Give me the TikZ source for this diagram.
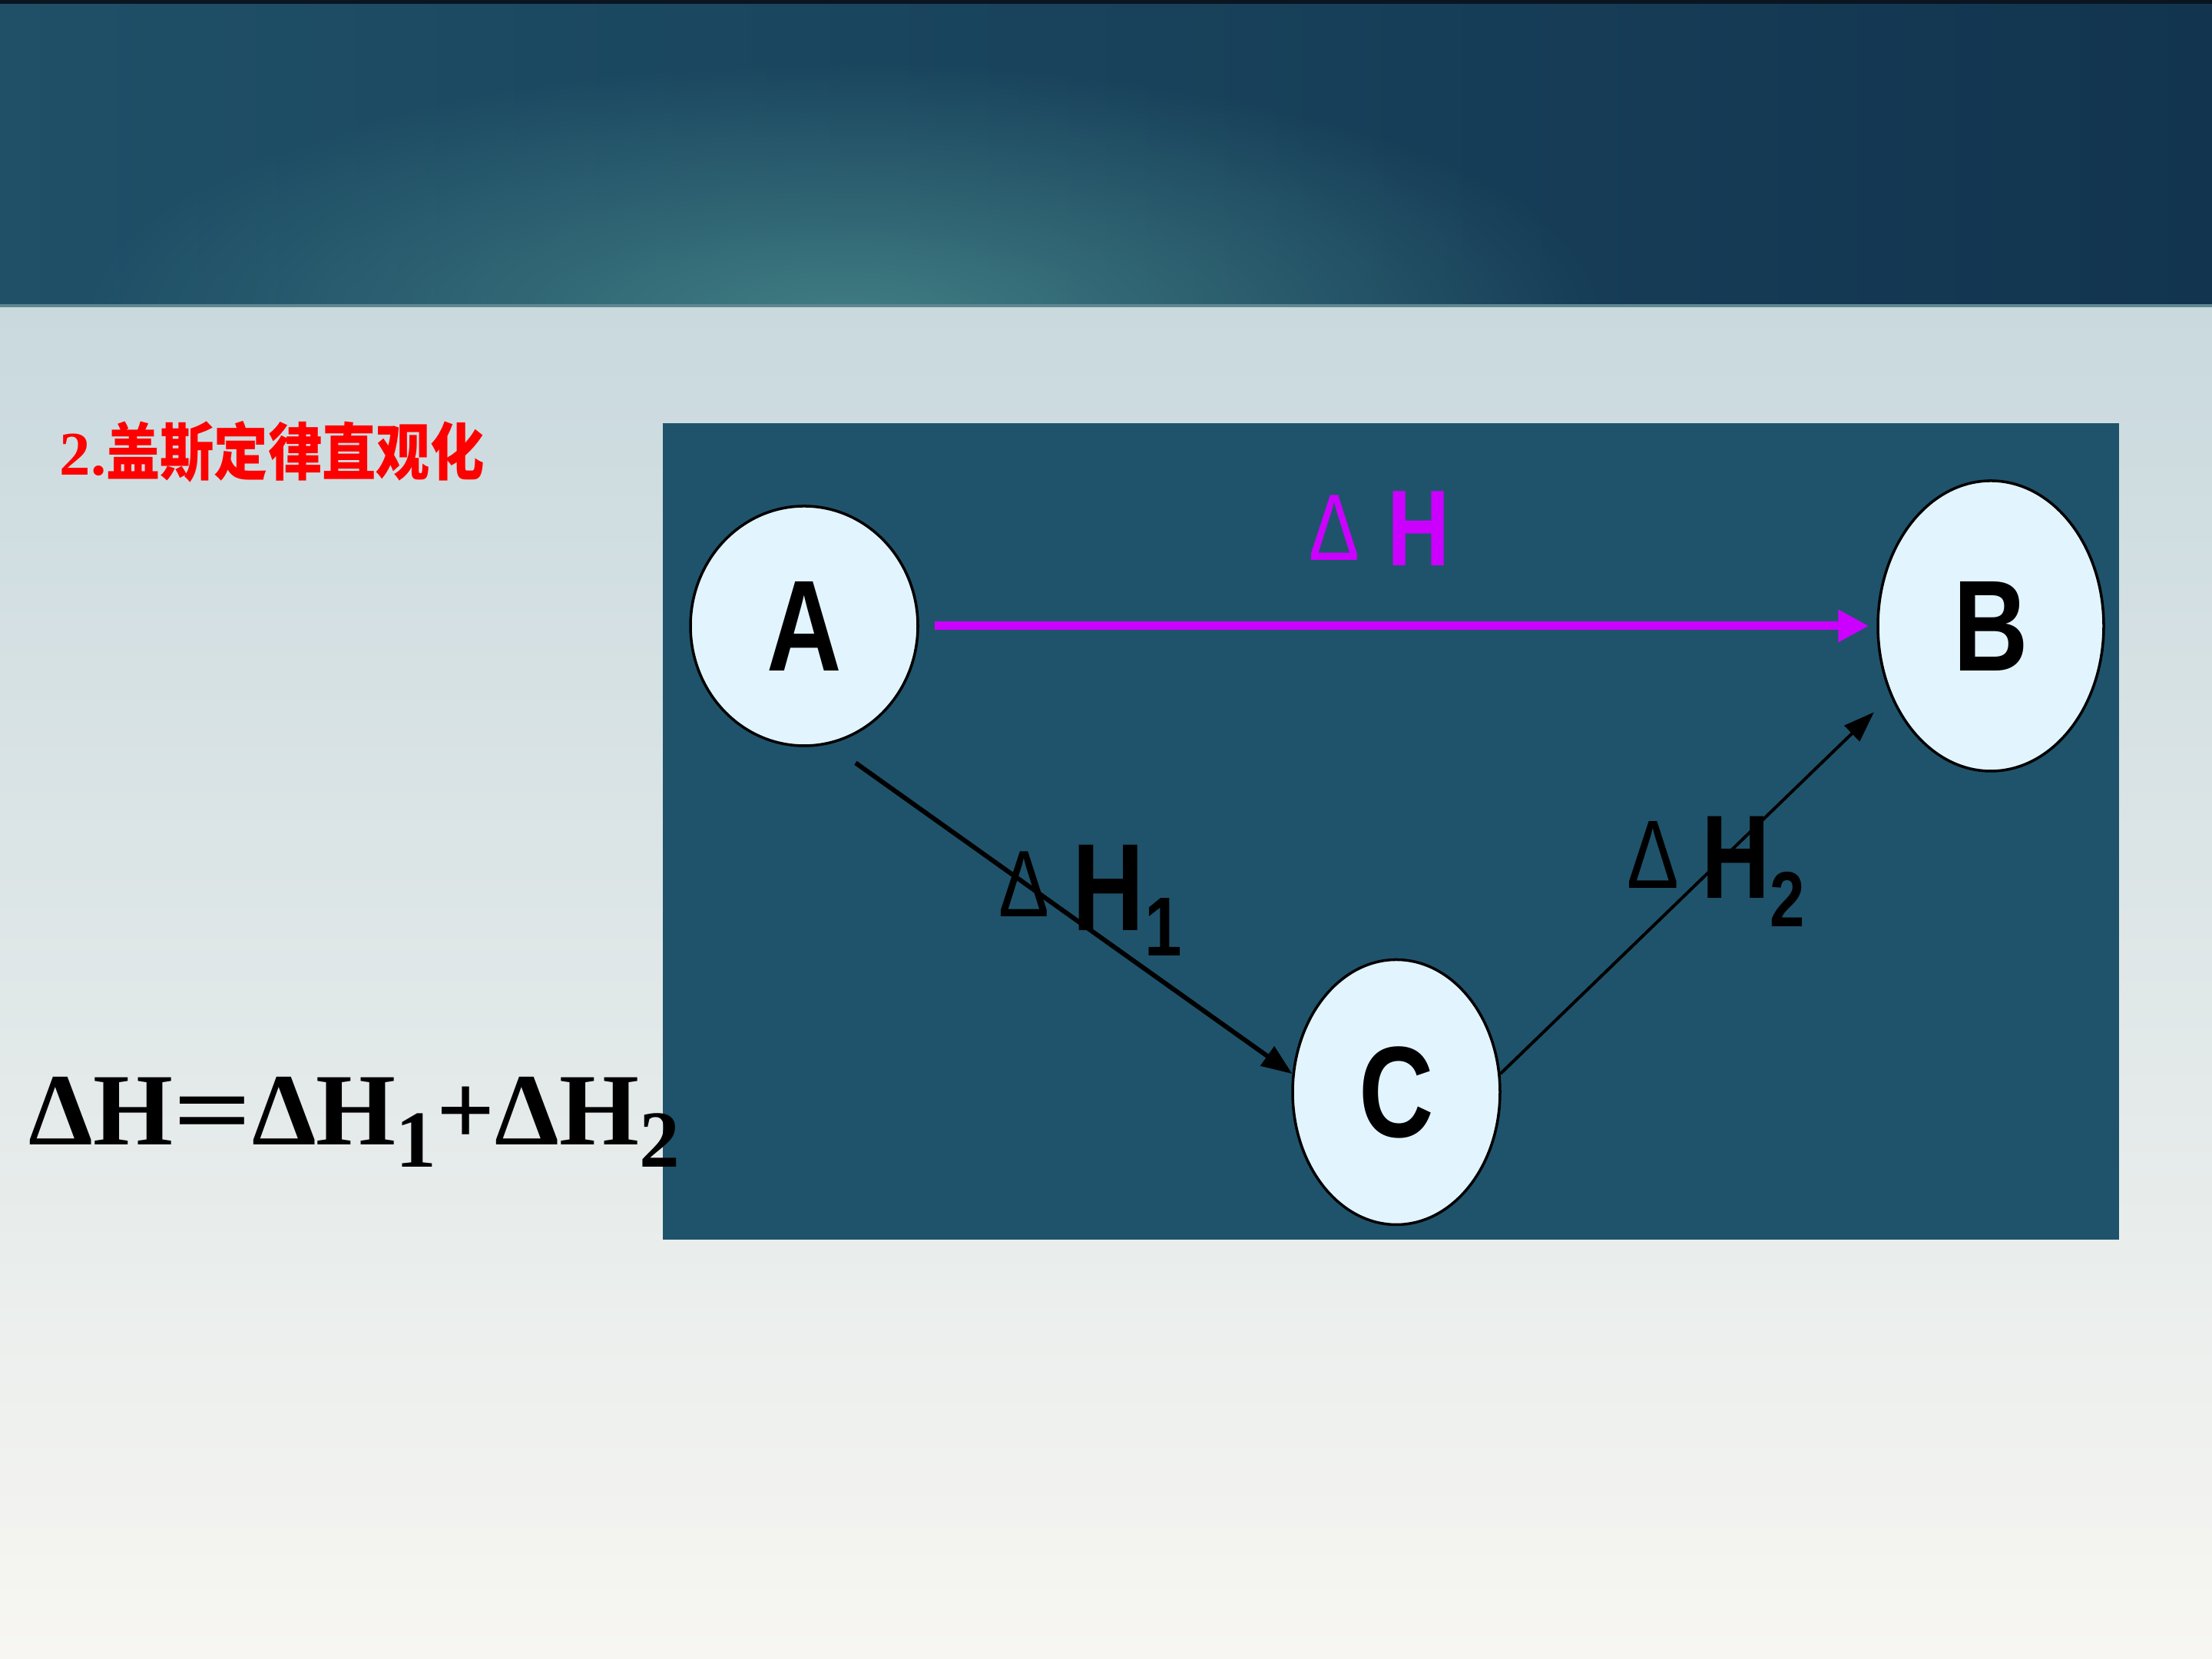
\documentclass[tikz,border=0pt]{standalone}
\usepackage{fontspec}
\setmainfont{Liberation Serif}
\newfontfamily\arialfont{Liberation Sans}
\newfontfamily\cjkfont{Noto Sans CJK SC}
\usetikzlibrary{shapes.geometric, arrows.meta, fadings}
\definecolor{header-left}{HTML}{1F5068}
\definecolor{header-mid}{HTML}{2A6071}
\definecolor{header-right}{HTML}{12344F}
\definecolor{header-glow}{HTML}{417E84}
\definecolor{header-edge}{HTML}{5F8791}
\definecolor{header-top}{HTML}{0A1520}
\definecolor{body-top}{HTML}{C9D9DE}
\definecolor{body-mid}{HTML}{E4E9E7}
\definecolor{body-bottom}{HTML}{F7F6F2}
\definecolor{panel-blue}{HTML}{1F536B}
\definecolor{state-fill}{HTML}{E2F4FE}
\definecolor{path-magenta}{HTML}{CC00FF}
\definecolor{title-red}{HTML}{FF0000}
\newcommand{\narrowtext}[1]{\scalebox{0.8}[1]{#1}}
\newcommand{\deltasym}[2]{\raisebox{#1}{\fontsize{#2}{#2}\selectfont Δ}}
\tikzfading[name=glow fade, inner color=transparent!0, outer color=transparent!100]

\begin{document}
\begin{tikzpicture}[
    state/.style={draw, line width=1pt, fill=state-fill, ellipse, inner sep=0pt,
                  font=\arialfont\bfseries\fontsize{48}{48}\selectfont},
    hlabel/.style={anchor=base west, inner sep=0pt, font=\arialfont}]
    \useasboundingbox (0,0) rectangle (28.8,21.6);
    \shade[top color=body-top, middle color=body-mid, bottom color=body-bottom]
      (0,0) rectangle (28.8,17.63);
    \begin{scope}
      \clip (0,17.63) rectangle (28.8,21.6);
      \shade[left color=header-left, middle color=header-mid, right color=header-right]
        (0,17.63) rectangle (28.8,21.6);
      \fill[header-glow, path fading=glow fade] (11,17.4) ellipse (10 and 3.4);
    \end{scope}
    \fill[header-edge] (0,17.60) rectangle (28.8,17.64);
    \fill[header-top] (0,21.55) rectangle (28.8,21.6);

    \node[anchor=west, inner sep=0pt, text=title-red] (title) at (0.77,15.72)
      {{\bfseries\fontsize{23}{23}\selectfont 2.}\scalebox{0.87}[1]{\cjkfont\bfseries\fontsize{23}{23}\selectfont 盖斯定律直观化}};

    \fill[panel-blue] (8.63,5.46) rectangle (27.59,16.09);

    \node[state, minimum width=2.96cm, minimum height=3.12cm] (A) at (10.47,13.45) {\narrowtext{A}};
    \node[state, minimum width=2.94cm, minimum height=3.78cm] (B) at (25.92,13.45) {\narrowtext{B}};
    \node[state, minimum width=2.70cm, minimum height=3.45cm] (C) at (18.18,7.38) {\narrowtext{C}};

    \draw[path-magenta, line width=0.11cm, -{Triangle[length=0.4cm, width=0.4cm]},
          shorten <=0.2cm, shorten >=0.1cm] (A) -- (B);
    \draw[line width=0.06cm, -{Triangle[length=0.4cm, width=0.3cm]},
          shorten <=0.42cm] (A.-78) -- (C.170);
    \draw[line width=0.04cm, -{Triangle[length=0.4cm, width=0.28cm]},
          shorten >=0.3cm] (C.10) -- (B.-145);

    \node[hlabel, text=path-magenta] (dH) at (17.04,14.23)
      {\narrowtext{\deltasym{0.07cm}{35}\hspace{0.45cm}{\fontsize{40}{40}\selectfont\bfseries H}}};
    \node[hlabel] (dH1) at (13.00,9.48)
      {\narrowtext{\deltasym{0.18cm}{35}\hspace{0.38cm}{\fontsize{46}{46}\selectfont\bfseries H}\raisebox{-0.33cm}{\fontsize{31}{31}\selectfont\bfseries 1}}};
    \node[hlabel] (dH2) at (21.18,9.90)
      {\narrowtext{\deltasym{0.13cm}{36}\hspace{0.36cm}{\fontsize{44}{44}\selectfont\bfseries H}\raisebox{-0.37cm}{\fontsize{29}{29}\selectfont\bfseries 2}}};

    \node[anchor=base west, inner sep=0pt, font=\bfseries\fontsize{38}{38}\selectfont] (law) at (0.37,6.69)
      {ΔH\scalebox{1.35}[1]{=}ΔH\raisebox{-0.29cm}{\fontsize{30}{30}\selectfont 1}+ΔH\raisebox{-0.29cm}{\fontsize{30}{30}\selectfont 2}};
  \end{tikzpicture}
\end{document}
